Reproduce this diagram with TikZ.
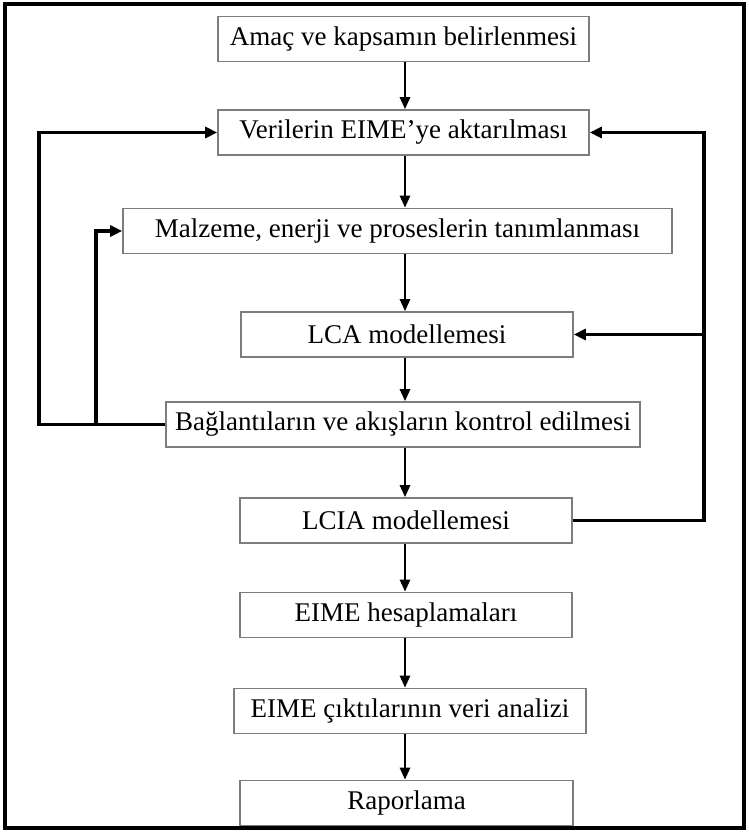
\documentclass[tikz,border=0pt]{standalone}
\usepackage{fontspec}
\setmainfont{Liberation Serif}
\usepackage{tikz}
\usetikzlibrary{arrows.meta,positioning,calc}
\definecolor{boxgray}{RGB}{125,125,125}

\begin{document}
\begin{tikzpicture}[x=1pt,y=-1pt,
  stage/.style={draw=boxgray,line width=1.6pt,fill=white,minimum height=45pt,inner sep=0pt,font=\fontsize{27}{30}\selectfont},
  flow/.style={line width=2.6pt,-{Triangle[length=12pt,width=10pt]}},
  loopback/.style={line width=3.6pt,-{Triangle[length=12pt,width=11pt]}}]
  \useasboundingbox (0,0) rectangle (749,832);
  \draw[line width=3.5pt] (5,4) rectangle (744,828);
  % steps of the flow
  \foreach \n/\x/\y/\w/\t in {
    1/403.5/39/371/{Amaç ve kapsamın belirlenmesi},
    2/403.5/132.5/371/{Verilerin EIME’ye aktarılması},
    3/397.5/231/549/{Malzeme, enerji ve proseslerin tanımlanması},
    4/407/334.5/332/{LCA modellemesi},
    5/403/424.5/474/{Bağlantıların ve akışların kontrol edilmesi},
    6/406/520.5/332/{LCIA modellemesi},
    7/406/615/332/{EIME hesaplamaları},
    8/410/711/352/{EIME çıktılarının veri analizi},
    9/406.5/803/333/{Raporlama}}{
    \node[stage,minimum width=\w pt] (b\n) at (\x,\y) {\t};
  }
  \coordinate (ax) at (405,0);
  \coordinate (lout) at (39,0);
  \coordinate (lin) at (96,0);
  \coordinate (rout) at (704,0);
  \foreach \i [evaluate=\i as \j using int(\i+1)] in {1,...,8}{
    \draw[flow] (b\i.south -| ax) -- (b\j.north -| ax);
  }
  % feedback loops
  \draw[loopback] (b5.west) -- (b5.west -| lout) |- (b2.west);
  \draw[loopback] (b5.west -| lin) |- (b3.west);
  \draw[loopback] (b6.east) -- (b6.east -| rout) |- (b2.east);
  \draw[loopback] (b4.east -| rout) -- (b4.east);
\end{tikzpicture}
\end{document}
